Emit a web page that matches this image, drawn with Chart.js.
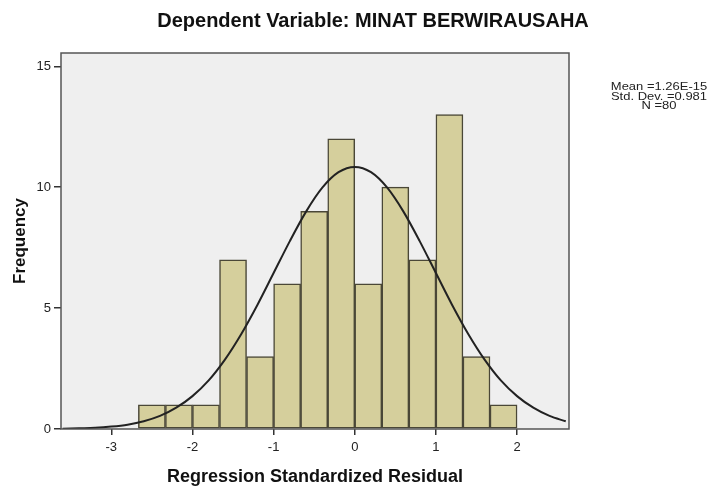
<!DOCTYPE html>
<html>
<head>
<meta charset="utf-8">
<script src="https://cdn.jsdelivr.net/npm/chart.js@4.4.1/dist/chart.umd.min.js"></script>
<style>
  html,body{margin:0;padding:0;background:#fff;}
  #wrap{width:711px;height:494px;position:relative;}
</style>
</head>
<body>
<div id="wrap"><canvas id="histo" width="711" height="494"></canvas></div>
<script>
// SPSS style residual histogram with fitted normal curve
var binEdges = [-2.667,-2.333,-2.0,-1.667,-1.333,-1.0,-0.667,-0.333,0,0.333,0.667,1.0,1.333,1.667,2.0];
var binCounts = [1,1,1,7,3,6,9,12,6,10,7,13,3,1];
var curveX = [-3.6,-3.4,-3.2,-3.0,-2.8,-2.6,-2.4,-2.2,-2.0,-1.8,-1.6,-1.4,-1.2,-1.0,-0.8,-0.6,-0.4,-0.2,0,0.2,0.4,0.6,0.8,1.0,1.2,1.4,1.6,1.8,2.0,2.2,2.4,2.6];
var curveY = [0.01,0.03,0.05,0.10,0.18,0.32,0.54,0.88,1.36,2.01,2.87,3.92,5.13,6.45,7.77,8.99,9.98,10.62,10.84,10.62,9.98,8.99,7.77,6.45,5.13,3.92,2.87,2.01,1.36,0.88,0.54,0.32];
var xTicks = [-3,-2,-1,0,1,2];
var yTicks = [0,5,10,15];
var titleText = "Dependent Variable: MINAT BERWIRAUSAHA";
var statLines = ["Mean =1.26E-15","Std. Dev. =0.981","N =80"];

(function () {
  var bars = binCounts.map(function(c,i){return {x:(binEdges[i]+binEdges[i+1])/2,y:c};});
  var curve = curveX.map(function(x,i){return {x:x,y:curveY[i]};});
  var fam="'Liberation Sans', Arial, sans-serif";

  var frame = {
    id:"frame",
    beforeDraw:function(chart){
      var c=chart.ctx,a=chart.chartArea;
      c.save();
      c.fillStyle="#fff";c.fillRect(0,0,chart.width,chart.height);
      c.fillStyle="#efefef";c.fillRect(a.left,a.top,a.right-a.left,a.bottom-a.top);
      c.restore();
    },
    afterDraw:function(chart){
      var c=chart.ctx,a=chart.chartArea;
      c.save();
      c.strokeStyle="#555";c.lineWidth=1.5;
      c.strokeRect(a.left,a.top,a.right-a.left,a.bottom-a.top);
      c.fillStyle="#111";c.textAlign="center";c.textBaseline="middle";
      c.font="bold 20px "+fam;
      c.fillText(titleText,373,21);
      // stats box text is a bit wide in the original, stretch it sideways
      c.fillStyle="#222";
      c.font="11px "+fam;
      c.translate(659,0);c.scale(1.18,1);
      statLines.forEach(function(s,i){c.fillText(s,0,87+i*9.5);});
      c.restore();
    }
  };

  var tickFont={family:fam,size:13};

  new Chart(document.getElementById("histo").getContext("2d"),{
    type:"bar",
    data:{datasets:[
      {type:"line",data:curve,borderColor:"#222",borderWidth:2,pointRadius:0,fill:false,cubicInterpolationMode:"monotone",order:0},
      {type:"bar",data:bars,backgroundColor:"#d5cf9c",borderColor:"#4a4737",borderWidth:1.5,borderSkipped:false,barPercentage:1,categoryPercentage:1,order:1}
    ]},
    options:{
      responsive:false,animation:false,
      layout:{padding:{top:53,right:142,left:0,bottom:0}},
      plugins:{legend:{display:false},tooltip:{enabled:false}},
      scales:{
        x:{type:"linear",min:-3.62,max:2.64,offset:false,
          afterFit:function(s){s.height=65;},
          afterBuildTicks:function(s){s.ticks=xTicks.map(function(v){return {value:v};});},
          grid:{offset:false,drawOnChartArea:false,drawTicks:true,tickLength:6,color:"#333",lineWidth:1.5},
          border:{display:false},
          ticks:{color:"#222",font:tickFont,padding:5,maxRotation:0},
          title:{display:true,text:"Regression Standardized Residual",color:"#111",font:{family:fam,size:18,weight:"bold"},padding:{top:0,bottom:6}}
        },
        y:{min:0,max:15.55,
          afterFit:function(s){s.width=61;},
          afterBuildTicks:function(s){s.ticks=yTicks.map(function(v){return {value:v};});},
          grid:{drawOnChartArea:false,drawTicks:true,tickLength:7,color:"#333",lineWidth:1.5},
          border:{display:false},
          ticks:{color:"#222",font:tickFont,padding:3},
          title:{display:true,text:"Frequency",color:"#111",font:{family:fam,size:17,weight:"bold"},padding:{top:10,bottom:0}}
        }
      }
    },
    plugins:[frame]
  });
})();
</script>
</body>
</html>
